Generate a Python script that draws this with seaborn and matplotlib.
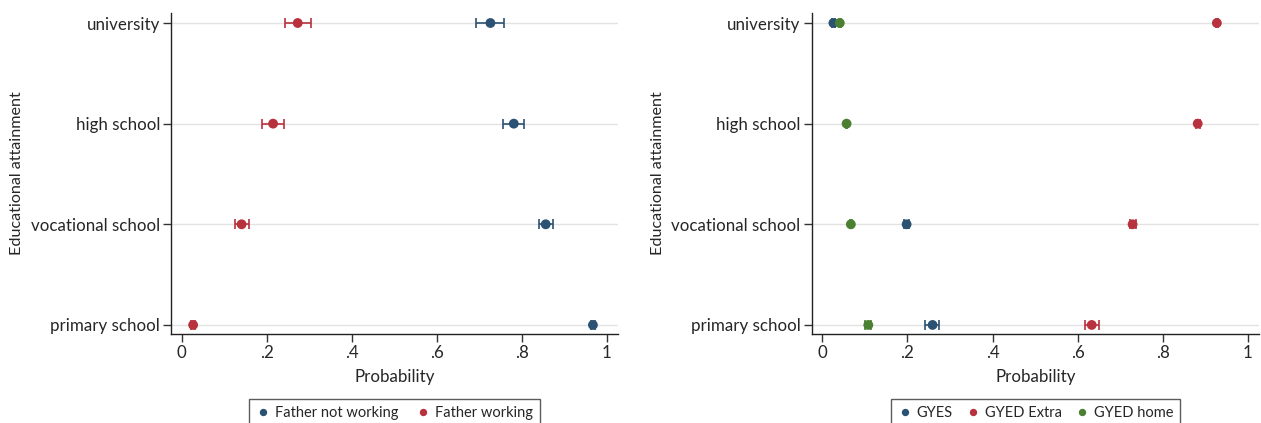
import numpy as np
import pandas as pd
import matplotlib
matplotlib.use("Agg")
import matplotlib.pyplot as plt
import seaborn as sns

# categories, bottom to top
levels = ["primary school", "vocational school", "high school", "university"]

# left panel: father's employment status
father_not_working = [0.967, 0.856, 0.781, 0.726]
father_not_working_lo = [0.962, 0.840, 0.756, 0.693]
father_not_working_hi = [0.972, 0.872, 0.806, 0.758]
father_working = [0.027, 0.141, 0.215, 0.273]
father_working_lo = [0.022, 0.125, 0.190, 0.243]
father_working_hi = [0.032, 0.158, 0.240, 0.303]

# right panel: leave type
gyes = [0.259, 0.198, np.nan, 0.026]
gyes_lo = [0.242, 0.192, np.nan, 0.023]
gyes_hi = [0.274, 0.204, np.nan, 0.029]
gyed_extra = [0.633, 0.729, 0.882, 0.927]
gyed_extra_lo = [0.617, 0.722, 0.877, 0.924]
gyed_extra_hi = [0.651, 0.736, 0.887, 0.930]
gyed_home = [0.108, 0.067, 0.057, 0.041]
gyed_home_lo = [0.101, 0.065, 0.055, 0.039]
gyed_home_hi = [0.115, 0.069, 0.059, 0.043]

xticks = [0, 0.2, 0.4, 0.6, 0.8, 1]
xticklabels = ["0", ".2", ".4", ".6", ".8", "1"]

blue = "#2b5173"
red = "#b8323e"
green = "#4b8033"

sns.set_style("white")
plt.rcParams["font.family"] = ["Lato", "DejaVu Sans"]


def make_df(series):
    rows = []
    for name, (vals, lo, hi) in series.items():
        for i, lev in enumerate(levels):
            rows.append({"group": name, "level": lev, "pos": i,
                         "p": vals[i], "lo": lo[i], "hi": hi[i]})
    return pd.DataFrame(rows)


def draw(ax, df, palette, ncol, colspace):
    for g, col in palette.items():
        d = df[(df.group == g) & df.p.notna()]
        ax.errorbar(d.p, d.pos, xerr=[d.p - d.lo, d.hi - d.p], fmt="none",
                    ecolor=col, elinewidth=1.2, capsize=3.5, capthick=1.2, zorder=3)
    sns.scatterplot(data=df.dropna(subset=["p"]), x="p", y="pos", hue="group",
                    palette=palette, hue_order=list(palette), s=50, linewidth=0,
                    ax=ax, zorder=4)
    for i in range(len(levels)):
        ax.axhline(i, color="#e2e2e2", lw=1, zorder=1)
    ax.set_xlim(-0.025, 1.026)
    ax.set_ylim(-0.09, 3.1)
    ax.set_xticks(xticks)
    ax.set_xticklabels(xticklabels)
    ax.set_yticks(range(len(levels)))
    ax.set_yticklabels(levels)
    ax.tick_params(axis="both", direction="out", length=6, width=1, color="#333333",
                   labelsize=12.2, left=True, bottom=True, pad=2)
    ax.set_xlabel("Probability", fontsize=12.2, labelpad=6)
    ax.set_ylabel("Educational attainment", fontsize=11.6, labelpad=5)
    for s in ["top", "right"]:
        ax.spines[s].set_visible(False)
    for s in ["left", "bottom"]:
        ax.spines[s].set_color("#222222")
        ax.spines[s].set_linewidth(1)
    h, l = ax.get_legend_handles_labels()
    ax.legend(h, l, loc="upper center", bbox_to_anchor=(0.5, -0.18), ncol=ncol,
              frameon=True, fancybox=False, edgecolor="#333333", fontsize=10.5,
              handletextpad=0.3, columnspacing=colspace, markerscale=0.75,
              borderpad=0.45, handlelength=1.0)


fig = plt.figure(figsize=(12.61, 4.23), dpi=100)
ax1 = fig.add_axes([0.1356, 0.2104, 0.3545, 0.759])
ax2 = fig.add_axes([0.6437, 0.2104, 0.3547, 0.759])

df1 = make_df({
    "Father not working": (father_not_working, father_not_working_lo, father_not_working_hi),
    "Father working": (father_working, father_working_lo, father_working_hi),
})
df2 = make_df({
    "GYES": (gyes, gyes_lo, gyes_hi),
    "GYED Extra": (gyed_extra, gyed_extra_lo, gyed_extra_hi),
    "GYED home": (gyed_home, gyed_home_lo, gyed_home_hi),
})

draw(ax1, df1, {"Father not working": blue, "Father working": red}, 2, 1.2)
draw(ax2, df2, {"GYES": blue, "GYED Extra": red, "GYED home": green}, 3, 0.9)

fig.savefig("out.png", dpi=100)
